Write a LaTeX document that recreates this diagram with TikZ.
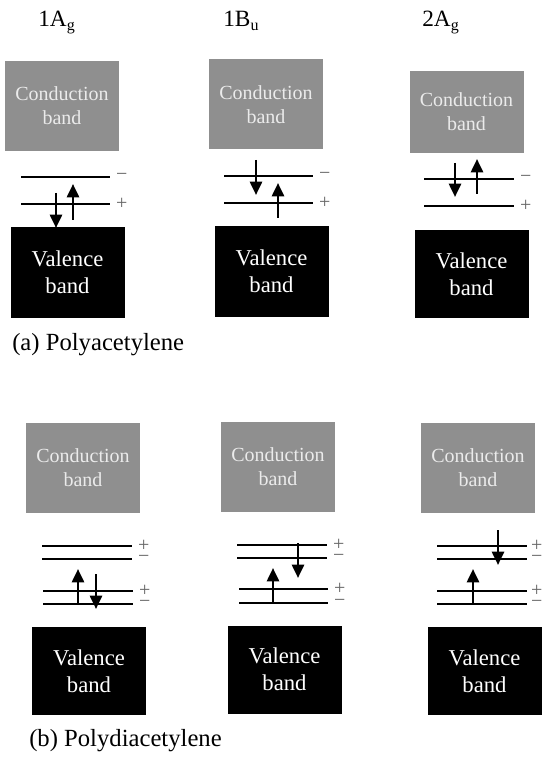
\documentclass[tikz,border=0pt]{standalone}
\usepackage{fontspec}
\setmainfont{Liberation Serif}
\usetikzlibrary{arrows.meta}
\definecolor{cbgray}{RGB}{143,143,143}
\newcommand\lowsub[1]{\raisebox{-3pt}{\fontsize{12}{12}\selectfont #1}}

\begin{document}
\begin{tikzpicture}[x=0.75pt,y=-0.75pt]
\tikzstyle{band}=[minimum width=85.5pt,minimum height=67.5pt,inner sep=0pt,align=center]
\tikzstyle{cband}=[band,fill=cbgray,text=white!92!black,font=\fontsize{15}{18}\selectfont]
\tikzstyle{vband}=[band,fill=black,text=white,font=\fontsize{17}{20}\selectfont]
\tikzstyle{level}=[line width=2pt]
\tikzstyle{spin}=[line width=2pt,-{Triangle[width=9pt,length=10pt]}]
\tikzstyle{sign}=[anchor=west,inner sep=0pt,xshift=3.5pt,text=black!60,font=\fontsize{15}{15}\selectfont]
\tikzstyle{statelbl}=[anchor=base west,inner sep=0pt,font=\fontsize{17.5}{17.5}\selectfont]
\tikzstyle{caption}=[anchor=base west,inner sep=0pt,font=\fontsize{18.5}{18.5}\selectfont]

\useasboundingbox (0,0) rectangle (543,766);

%% State labels
\node [statelbl] (lblA1) at (38,27) {1A\lowsub{g}};
\node [statelbl] (lblB1) at (223,27) {1B\lowsub{u}};
\node [statelbl] (lblA2) at (422,27) {2A\lowsub{g}};

%% (a) Polyacetylene: bands
\node [cband] (cbA1) at (62,106) {Conduction\\band};
\node [cband] (cbA2) at (266,104.5) {Conduction\\band};
\node [cband,minimum height=61.5pt] (cbA3) at (466.5,112) {Conduction\\band};
\node [vband] (vbA1) at (67.5,272.5) {Valence\\band};
\node [vband] (vbA2) at (271.5,271.5) {Valence\\band};
\node [vband,minimum height=66pt] (vbA3) at (471.5,274) {Valence\\band};

%% (a) levels and spins
\draw [level] (21,177) -- (110,177) node [sign] (sA1m) {−};
\draw [level] (21,204) -- (110,204) node [sign] (sA1p) {+};
\draw [spin] (56,193) -- (56,228);
\draw [spin] (73,220) -- (73,184);

\draw [level] (224,176) -- (313,176) node [sign] (sA2m) {−};
\draw [level] (224,203) -- (313,203) node [sign] (sA2p) {+};
\draw [spin] (256,160) -- (256,195);
\draw [spin] (278,218) -- (278,183);

\draw [level] (424,179) -- (514,179) node [sign] (sA3m) {−};
\draw [level] (424,206) -- (514,206) node [sign] (sA3p) {+};
\draw [spin] (455,163) -- (455,197);
\draw [spin] (477,194) -- (477,159);

\node [caption] (capA) at (12,350) {(a) Polyacetylene};

%% (b) Polydiacetylene: bands
\node [cband] (cbB1) at (83,467.5) {Conduction\\band};
\node [cband] (cbB2) at (278,466.5) {Conduction\\band};
\node [cband] (cbB3) at (478,467.5) {Conduction\\band};
\node [vband,minimum height=66pt] (vbB1) at (89,671) {Valence\\band};
\node [vband,minimum height=66pt] (vbB2) at (284.5,669.5) {Valence\\band};
\node [vband,minimum height=66pt] (vbB3) at (484.5,671) {Valence\\band};

%% (b) levels and spins
\draw [level] (42,546) -- (132,546) node [sign] (sB1a) {+};
\draw [level] (42,559) -- (132,559) node [sign] (sB1b) {−};
\draw [level] (43,591) -- (133,591) node [sign] (sB1c) {+};
\draw [level] (43,604) -- (133,604) node [sign] (sB1d) {−};
\draw [spin] (78,604) -- (78,569);
\draw [spin] (96,574) -- (96,609);

\draw [level] (237,545) -- (327,545) node [sign] (sB2a) {+};
\draw [level] (237,558) -- (327,558) node [sign] (sB2b) {−};
\draw [level] (239,589) -- (328,589) node [sign] (sB2c) {+};
\draw [level] (239,603) -- (328,603) node [sign] (sB2d) {−};
\draw [spin] (273,603) -- (273,568);
\draw [spin] (298,543) -- (298,578);

\draw [level] (437,546) -- (527,546) node [sign,xshift=-1.5pt] (sB3a) {+};
\draw [level] (437,559) -- (527,559) node [sign,xshift=-1.5pt] (sB3b) {−};
\draw [level] (437,591) -- (527,591) node [sign,xshift=-1.5pt] (sB3c) {+};
\draw [level] (437,604) -- (527,604) node [sign,xshift=-1.5pt] (sB3d) {−};
\draw [spin] (473,604) -- (473,569);
\draw [spin] (498,530) -- (498,565);

\node [caption] (capB) at (29,746) {(b) Polydiacetylene};
\end{tikzpicture}
\end{document}
